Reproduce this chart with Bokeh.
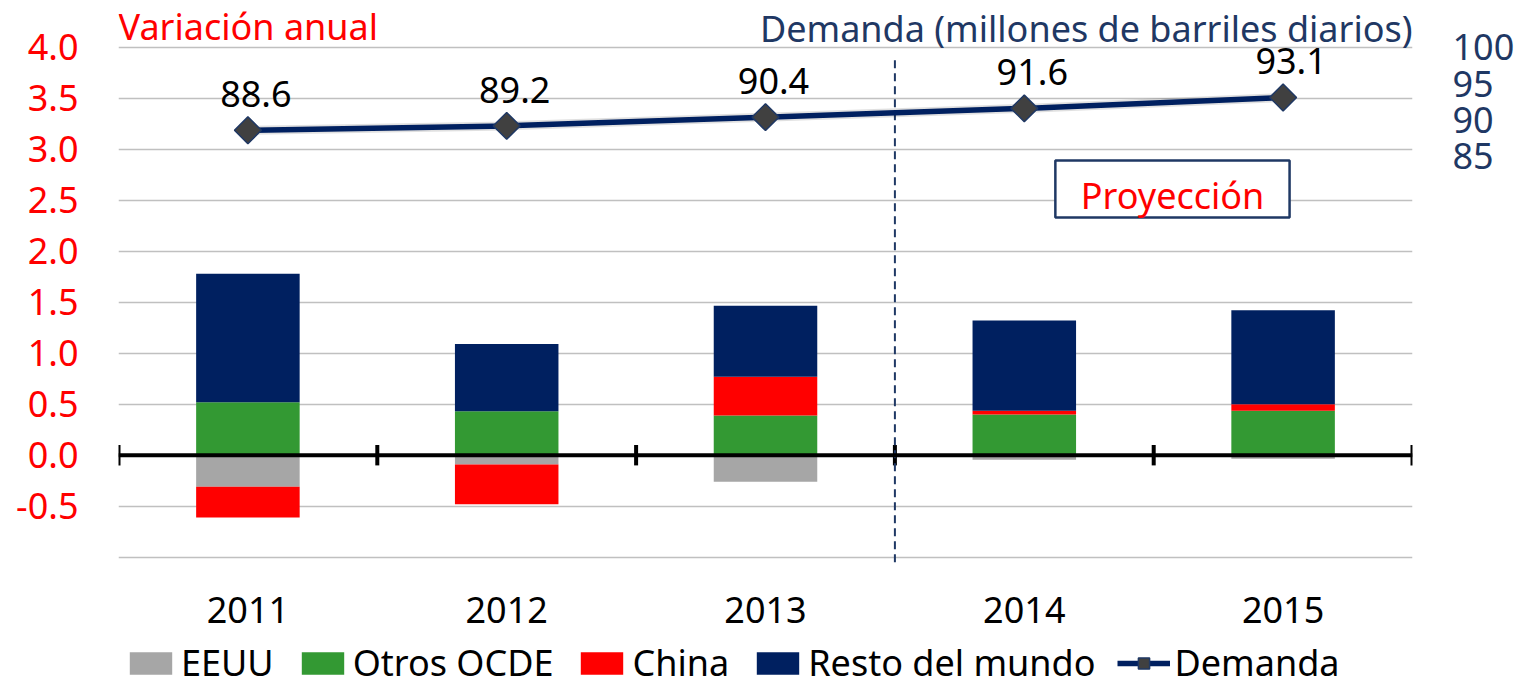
import numpy as np
from bokeh.plotting import figure
from bokeh.models import (ColumnDataSource, Range1d, LinearAxis, FixedTicker, PrintfTickFormatter,
                          Span, Legend, LegendItem)
from bokeh.core.properties import value
from bokeh.embed import file_html
from bokeh.resources import INLINE

# ---------------- data ----------------
years = ["2011", "2012", "2013", "2014", "2015"]
eeuu = [-0.31, -0.09, -0.26, -0.045, -0.035]
otros_ocde = [0.52, 0.43, 0.39, 0.40, 0.435]
china = [-0.30, -0.39, 0.38, 0.035, 0.065]
resto = [1.26, 0.66, 0.695, 0.885, 0.92]
demanda = [88.6, 89.2, 90.4, 91.6, 93.1]
left_ticks = [-0.5, 0.0, 0.5, 1.0, 1.5, 2.0, 2.5, 3.0, 3.5, 4.0]
grid_ticks = [-1.0] + left_ticks
right_ticks = [85, 90, 95, 100]
series_names = ["EEUU", "Otros OCDE", "China", "Resto del mundo"]
series_colors = ["#A6A6A6", "#339933", "#FF0000", "#002060"]
title_left = "Variación anual"
title_right = "Demanda (millones de barriles diarios)"
proj_text = "Proyección"

FONT = "Noto Sans"
NAVY = "#1F3864"

# ---------------- stacking (positive up, negative down) ----------------
series = [np.array(eeuu), np.array(otros_ocde), np.array(china), np.array(resto)]
n = len(years)
xc = np.arange(n) + 0.5
pos_base = np.zeros(n)
neg_base = np.zeros(n)
stacks = []
for s in series:
    bottom = np.where(s >= 0, pos_base, neg_base)
    top = bottom + s
    pos_base = np.where(s >= 0, top, pos_base)
    neg_base = np.where(s < 0, top, neg_base)
    stacks.append((bottom, top))

# ---------------- figure ----------------
# the frame spans the whole canvas height so titles, year labels and legend can sit in it
p = figure(width=1521, height=687, output_backend="svg", toolbar_location=None,
           x_range=Range1d(0, n), y_range=Range1d(-2.2775, 4.458),
           min_border_left=118, min_border_right=109, min_border_top=0, min_border_bottom=0,
           x_axis_location=None)
p.outline_line_color = None
p.background_fill_color = "white"
p.border_fill_color = "white"

p.extra_y_ranges = {"dem": Range1d(12.115, 106.41)}

# left axis
ya = p.yaxis[0]
ya.ticker = FixedTicker(ticks=left_ticks)
ya.formatter = PrintfTickFormatter(format="%.1f")
ya.axis_line_color = None
ya.major_tick_line_color = None
ya.minor_tick_line_color = None
ya.major_tick_out = 0
ya.major_tick_in = 0
ya.major_label_text_font = FONT
ya.major_label_text_font_size = "36px"
ya.major_label_text_color = "#FF0000"
ya.major_label_standoff = 40

# right axis
ra = LinearAxis(y_range_name="dem", ticker=FixedTicker(ticks=right_ticks))
ra.axis_line_color = None
ra.major_tick_line_color = None
ra.minor_tick_line_color = None
ra.major_tick_out = 0
ra.major_tick_in = 0
ra.major_label_text_font = FONT
ra.major_label_text_font_size = "36px"
ra.major_label_text_color = NAVY
ra.major_label_standoff = 40
p.add_layout(ra, "right")

# grids
p.xgrid.grid_line_color = None
p.ygrid.ticker = FixedTicker(ticks=grid_ticks)
p.ygrid.grid_line_color = "#C0C0C0"
p.ygrid.grid_line_width = 1.5

# bars
bar_renderers = []
for (bottom, top), name, col in zip(stacks, series_names, series_colors):
    r = p.vbar(x=xc, width=0.4, bottom=bottom, top=top, fill_color=col, line_color=None)
    bar_renderers.append(r)

# zero line with boundary ticks
p.add_layout(Span(location=0, dimension="width", line_color="black", line_width=4))
bounds = np.arange(n + 1).astype(float)
p.segment(x0=bounds, x1=bounds, y0=np.full(n + 1, -0.1), y1=np.full(n + 1, 0.1),
          line_color="black", line_width=4)

# category labels
p.text(x=xc, y=np.full(n, -1.518), text=years, text_align="center",
       text_baseline="alphabetic", text_font=value(FONT), text_font_size="36px",
       text_color="black")

# projection divider
p.segment(x0=[3.0], x1=[3.0], y0=[-1.05], y1=[3.92], line_color=NAVY, line_width=2,
          line_dash="8 5")

# projection box
p.quad(left=[3.62], right=[4.525], bottom=[2.33], top=[2.89], fill_color="white",
       line_color=NAVY, line_width=2.5)
p.text(x=[4.073], y=[2.546], text=[proj_text], text_align="center",
       text_baseline="alphabetic", text_font=value(FONT), text_font_size="36px",
       text_color="#FF0000")

# demand line (soft shadow, line, markers, labels)
src = ColumnDataSource(dict(x=xc, y=demanda, lab=[f"{v:.1f}" for v in demanda]))
p.line("x", "y", source=src, y_range_name="dem", line_color="#000000", line_alpha=0.12,
       line_width=9)
dl = p.line("x", "y", source=src, y_range_name="dem", line_color="#002060", line_width=5.5)
dm = p.scatter("x", "y", source=src, y_range_name="dem", marker="square", angle=np.pi / 4,
               size=19, fill_color="#404040", line_color=NAVY, line_width=1.5)
p.text("x", "y", text="lab", source=src, y_range_name="dem", x_offset=8, y_offset=-36,
       text_align="center", text_baseline="alphabetic", text_font=value(FONT),
       text_font_size="36px", text_color="black")

# titles
p.text(x=[0.0], y=[4.203], text=[title_left], text_align="left",
       text_baseline="alphabetic", text_font=value(FONT), text_font_size="36px",
       text_color="#FF0000")
p.text(x=[5.0], y=[4.183], text=[title_right], text_align="right",
       text_baseline="alphabetic", text_font=value(FONT), text_font_size="36px",
       text_color=NAVY)

# legend
items = [LegendItem(label=nm, renderers=[r]) for nm, r in zip(series_names, bar_renderers)]
items.append(LegendItem(label="Demanda", renderers=[dl, dm]))
leg = Legend(items=items, orientation="horizontal", location=(6, 0),
             label_text_font=FONT, label_text_font_size="36px", label_text_color="black",
             glyph_width=53, glyph_height=28, label_standoff=4, spacing=22,
             padding=0, margin=0, border_line_color=None, background_fill_alpha=0)
p.add_layout(leg, "center")

open("out.html", "w").write(file_html(p, INLINE))
